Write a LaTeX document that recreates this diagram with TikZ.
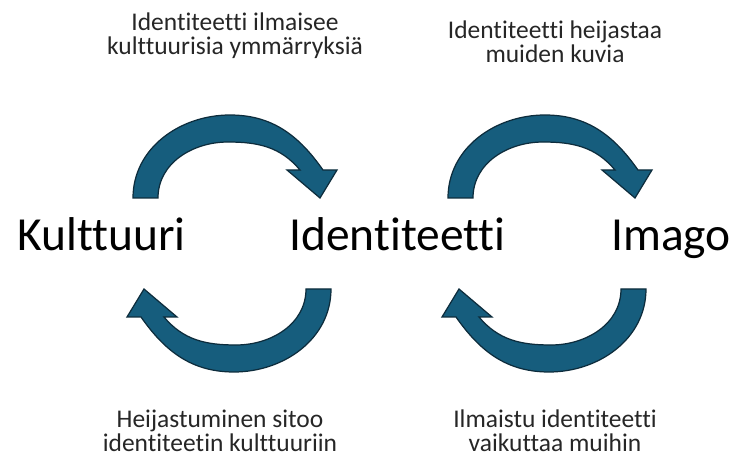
\documentclass[tikz,border=0pt]{standalone}
\usepackage{fontspec}
\setmainfont{Carlito}[Ligatures=NoCommon]
\definecolor{arrowfill}{RGB}{22,93,125}
\definecolor{arrowline}{RGB}{13,44,60}
\tikzset{
  cyclearrow/.pic={
    \filldraw[fill=arrowfill, draw=arrowline, line width=0.7pt, line join=miter]
      (-99,45.5) -- (-74,45.5) to[out=90,in=180] (-4,101.5) to[out=0,in=130] (68,73.5)
      -- (55,73.5) -- (88,45.5) -- (105,73.5) -- (91,73.5)
      to[out=125,in=0] (-2,128.5) to[out=180,in=90] (-99,45.5) -- cycle;
  },
  keyword/.style={font=\fontsize{27}{30}\selectfont, anchor=base, inner sep=0pt},
  caption/.style={font=\fontsize{14.5}{14.2}\selectfont, align=center, anchor=base,
    inner sep=0pt, text=black!85}
}
\begin{document}
\begin{tikzpicture}[x=0.02cm, y=0.02cm]
  \useasboundingbox (0,0) rectangle (735,457);
  \pic at (232,213.5) {cyclearrow};
  \pic[rotate=180] at (232,213.5) {cyclearrow};
  \pic at (547,213.5) {cyclearrow};
  \pic[rotate=180] at (547,213.5) {cyclearrow};
  \node[keyword] (culture) at (101.7,206) {Kulttuuri};
  \node[keyword] (identity) at (397.5,206) {Identiteetti};
  \node[keyword] (image) at (671,206) {Imago};
  % base anchor sits on the last line
  \node[caption] (expresses) at (235,402) {Identiteetti ilmaisee\\kulttuurisia ymmärryksiä};
  \node[caption] (mirrors) at (555,394) {Identiteetti heijastaa\\muiden kuvia};
  \node[caption] (binds) at (220,5) {Heijastuminen sitoo\\identiteetin kulttuuriin};
  \node[caption] (affects) at (555,5) {Ilmaistu identiteetti\\vaikuttaa muihin};
\end{tikzpicture}
\end{document}
